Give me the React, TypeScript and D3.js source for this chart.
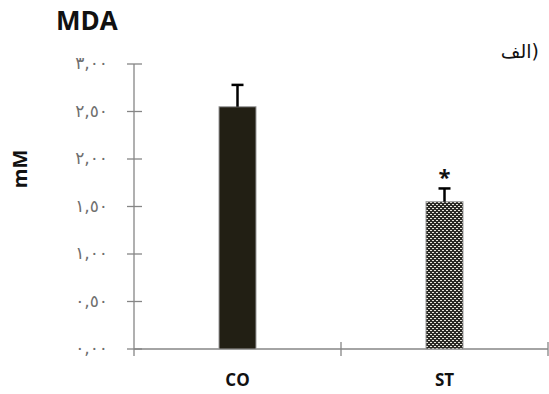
import React from "react";
import * as d3 from "d3";

const categories = ["CO", "ST"];
const means = [2.55, 1.55];
const errors = [0.23, 0.14];
const significant = [false, true];
const yTicks = [0, 0.5, 1, 1.5, 2, 2.5, 3];
const yTickLabels = ["٠,٠٠", "٠,٥٠", "١,٠٠", "١,٥٠", "٢,٠٠", "٢,٥٠", "٣,٠٠"];

export default function App() {
  const W = 549, H = 394;
  const left = 134, right = 548, top = 64, bottom = 349;
  const x = d3.scaleBand<string>().domain(categories).range([left, right]).paddingInner(0).paddingOuter(0);
  const y = d3.scaleLinear().domain([0, 3]).range([bottom, top]);
  const barW = 37;
  const axisColor = "#868686";
  const font = "'Open Sans', 'Liberation Sans', Arial, sans-serif";

  return (
    <svg width={W} height={H} style={{ position: "absolute", left: 0, top: 0 }}>
      <defs>
        <pattern id="dots" width="4" height="4" patternUnits="userSpaceOnUse">
          <rect width="4" height="4" fill="#2a2925" />
          <rect x="0" y="0" width="2" height="1" fill="#e8e6dc" />
          <rect x="2" y="2" width="2" height="1" fill="#e8e6dc" />
        </pattern>
      </defs>
      <rect width={W} height={H} fill="#fff" />
      {/* title */}
      <text x={56} y={30} fontFamily={font} fontWeight="bold" fontSize={26} fill="#111">MDA</text>
      <text x={539} y={58} fontFamily="'DejaVu Sans', sans-serif" fontSize={19} fill="#111" textAnchor="start" style={{ direction: "rtl" }}>(الف</text>
      {/* y label */}
      <text transform={`translate(27,169) rotate(-90)`} fontFamily={font} fontWeight="bold" fontSize={20} textAnchor="middle" fill="#111">mM</text>
      {/* y axis */}
      <line x1={left} x2={left} y1={y(3)} y2={y(0)} stroke={axisColor} strokeWidth={1.3} />
      {yTicks.map((t, i) => (
        <g key={t}>
          <line x1={127} x2={142} y1={y(t)} y2={y(t)} stroke={axisColor} strokeWidth={1.3} />
          <text x={108} y={y(t) + 5} textAnchor="end" fontFamily="'DejaVu Sans', sans-serif" fontSize={17} fill="#6e6e6e" letterSpacing={3} style={{ direction: "ltr" }}>{yTickLabels[i]}</text>
        </g>
      ))}
      {/* x axis */}
      <line x1={left} x2={right} y1={bottom} y2={bottom} stroke={axisColor} strokeWidth={1.3} />
      {[left, ...categories.map((c) => (x(c) as number) + x.bandwidth())].map((px, i) => (
        <line key={i} x1={px} x2={px} y1={i === 0 ? bottom : bottom - 7} y2={bottom + 7} stroke={axisColor} strokeWidth={1.3} />
      ))}
      {categories.map((c, i) => {
        const cx = (x(c) as number) + x.bandwidth() / 2;
        return (
          <g key={c}>
            <rect x={cx - barW / 2} y={y(means[i])} width={barW} height={bottom - y(means[i])}
              fill={i === 0 ? "#221f14" : "url(#dots)"} stroke="#9a9a9a" strokeWidth={1} />
            <line x1={cx} x2={cx} y1={y(means[i])} y2={y(means[i] + errors[i])} stroke="#000" strokeWidth={2.5} />
            <line x1={cx - 6} x2={cx + 6} y1={y(means[i] + errors[i])} y2={y(means[i] + errors[i])} stroke="#000" strokeWidth={2.5} />
            {significant[i] && (
              <text x={cx} y={y(means[i] + errors[i]) - 3} textAnchor="middle" fontFamily={font} fontWeight="bold" fontSize={22} fill="#111">*</text>
            )}
            <text x={cx} y={386} textAnchor="middle" fontFamily={font} fontWeight="bold" fontSize={17} fill="#111">{c}</text>
          </g>
        );
      })}
    </svg>
  );
}
